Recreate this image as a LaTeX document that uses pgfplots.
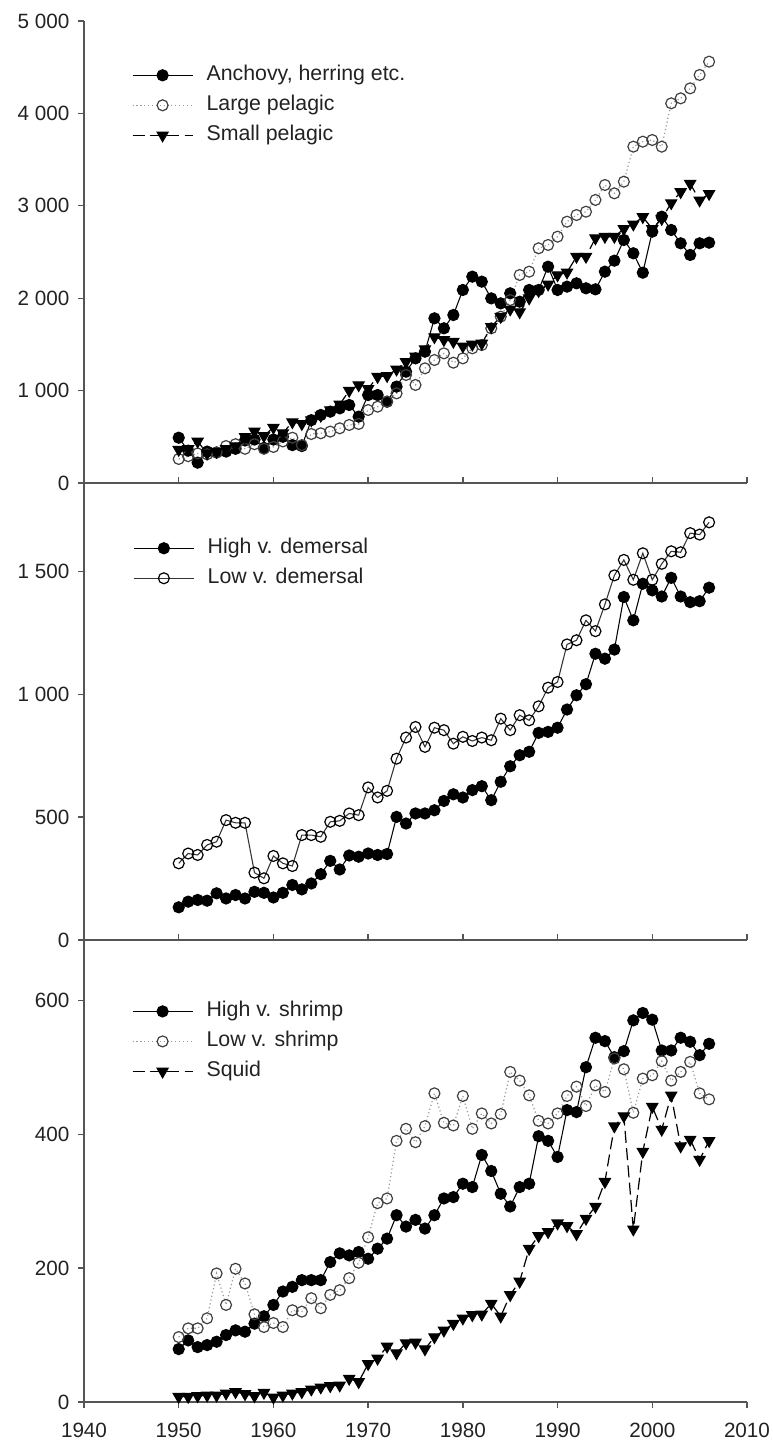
\documentclass[border=0pt]{standalone}
\usepackage{pgfplots}
\pgfplotsset{compat=1.18}
\usepackage{pgfplotstable}
\usepackage{fontspec}
\setmainfont{Liberation Sans}
\definecolor{axgray}{HTML}{555555}
\definecolor{txt}{HTML}{222222}
\definecolor{dotgray}{HTML}{999999}

\pgfplotstableread{
year anch large small
1950 490 260 360
1951 350 290 370
1952 220 320 450
1953 340 310 320
1954 330 330 340
1955 340 400 370
1956 370 420 400
1957 460 370 500
1958 470 420 560
1959 380 370 510
1960 470 390 600
1961 500 450 540
1962 410 490 660
1963 400 410 640
1964 680 530 680
1965 736 538 730
1966 772 556 790
1967 808 592 850
1968 844 628 1000
1969 718 639 1060
1970 952 790 1020
1971 952 826 1150
1972 880 880 1160
1973 1043 970 1230
1974 1205 1169 1310
1975 1349 1061 1370
1976 1421 1241 1450
1977 1782 1331 1580
1978 1674 1403 1550
1979 1818 1302 1530
1980 2089 1349 1480
1981 2233 1457 1500
1982 2179 1493 1510
1983 1998 1674 1690
1984 1944 1800 1800
1985 2053 1980 1880
1986 1962 2251 1850
1987 2089 2287 2000
1988 2089 2540 2080
1989 2341 2576 2150
1990 2089 2666 2250
1991 2125 2828 2280
1992 2161 2900 2450
1993 2107 2936 2450
1994 2096 3063 2650
1995 2287 3225 2666
1996 2406 3135 2666
1997 2630 3261 2750
1998 2486 3640 2800
1999 2276 3694 2880
2000 2720 3712 2750
2001 2882 3640 2860
2002 2738 4109 3030
2003 2594 4163 3150
2004 2468 4271 3240
2005 2594 4416 3060
2006 2601 4560 3130
}\toptable

\pgfplotstableread{
year high low
1950 133 312
1951 156 352
1952 163 346
1953 160 387
1954 190 400
1955 169 488
1956 183 477
1957 169 477
1958 196 274
1959 192 251
1960 173 342
1961 192 312
1962 224 301
1963 206 427
1964 230 427
1965 268 420
1966 322 481
1967 287 485
1968 344 515
1969 339 508
1970 352 621
1971 346 580
1972 350 607
1973 501 738
1974 474 824
1975 515 867
1976 515 786
1977 528 864
1978 566 854
1979 593 799
1980 580 827
1981 610 810
1982 626 824
1983 569 813
1984 644 901
1985 707 854
1986 752 915
1987 766 894
1988 843 951
1989 847 1027
1990 864 1050
1991 938 1203
1992 996 1220
1993 1041 1301
1994 1165 1257
1995 1145 1366
1996 1182 1484
1997 1396 1547
1998 1301 1466
1999 1450 1574
2000 1423 1466
2001 1398 1531
2002 1474 1582
2003 1398 1578
2004 1375 1656
2005 1379 1650
2006 1434 1700
}\midtable

\pgfplotstableread{
year high low squid
1950 79 97 8
1951 92 110 8
1952 82 110 9
1953 85 125 10
1954 90 192 10
1955 100 145 13
1956 107 199 15
1957 105 177 12
1958 117 131 9
1959 128 112 14
1960 145 118 7
1961 165 112 10
1962 172 137 13
1963 182 135 15
1964 182 155 19
1965 182 140 22
1966 209 160 24
1967 222 167 25
1968 219 185 35
1969 224 208 30
1970 214 246 57
1971 229 297 65
1972 244 304 83
1973 279 390 73
1974 262 408 88
1975 272 388 89
1976 259 412 79
1977 279 461 97
1978 304 417 107
1979 306 413 117
1980 326 457 125
1981 321 408 130
1982 369 431 131
1983 345 416 147
1984 311 430 128
1985 292 493 160
1986 321 480 180
1987 326 458 229
1988 397 420 248
1989 390 416 254
1990 366 431 267
1991 436 457 263
1992 433 471 251
1993 500 442 274
1994 544 473 292
1995 539 463 329
1996 515 513 412
1997 524 497 427
1998 570 432 258
1999 581 483 374
2000 571 488 441
2001 525 509 407
2002 525 480 458
2003 544 493 382
2004 538 508 392
2005 518 461 362
2006 535 452 390
}\bottable

\pgfplotsset{
  panel/.style={
    scale only axis, width=497.25pt,
    xmin=1940, xmax=2010, ymin=0,
    axis x line=bottom, axis y line=left,
    axis line style={draw=axgray, line width=1.1pt, -},
    tick style={draw=axgray, line width=1pt},
    tick align=outside, major tick length=4.5pt,
    xtick={1940,1950,...,2010},
    tick label style={font=\fontsize{15.5}{18}\selectfont, text=txt},
    /pgf/number format/assume math mode=true,
    /pgf/number format/1000 sep={\ },
    yticklabel style={xshift=-3pt},
    xticklabel style={yshift=-8pt, /pgf/number format/1000 sep={}},
    legend cell align=left,
    legend style={draw=none, fill=none, inner sep=0pt, row sep=4.5pt,
      font=\fontsize{16}{18}\selectfont, text=txt,
      nodes={inner sep=1pt, text height=12pt, text depth=4pt},
      /tikz/every odd column/.append style={column sep=9pt}},
    legend image code/.code={\draw[mark repeat=2, mark phase=2, #1]
      plot coordinates {(0pt,0pt) (22.5pt,0pt) (45pt,0pt)};},
    clip=false,
  },
  inx/.style={xticklabels={}, xtick style={yshift=4.5pt}},
  filled/.style={black, line width=0.8pt, solid, mark=*, mark size=4.2pt,
    mark options={fill=black, solid}},
  openc/.style={dotgray, line width=0.9pt, dotted, mark=o, mark size=4.1pt,
    mark options={draw=black!75, fill=white, solid, line width=0.9pt}},
  opensolid/.style={black!80, line width=0.8pt, solid, mark=o, mark size=4.1pt,
    mark options={draw=black, fill=white, solid, line width=0.9pt}},
  tri/.style={black, line width=0.9pt, dash pattern=on 9pt off 4pt, mark=triangle*,
    mark size=4.7pt, mark options={fill=black, solid, rotate=180}},
}

\begin{document}
\begin{tikzpicture}
\path[use as bounding box] (-63pt,-33pt) rectangle (516pt,1051.5pt);

% bottom panel
\begin{axis}[panel, at={(0pt,0pt)}, anchor=south west, height=346.5pt,
  ymax=690, ytick={0,200,400,600},
  legend style={at={(0.072,0.872)}, anchor=north west}]
\addplot[filled] table[x=year,y=high] {\bottable};
\addlegendentry{High v. shrimp}
\addplot[openc] table[x=year,y=low] {\bottable};
\addlegendentry{Low v. shrimp}
\addplot[tri] table[x=year,y=squid] {\bottable};
\addlegendentry{Squid}
\end{axis}

% middle panel
\begin{axis}[panel, inx, at={(0pt,346.5pt)}, anchor=south west, height=342.75pt,
  ymax=1860, ytick={0,500,1000,1500},
  legend style={at={(0.074,0.884)}, anchor=north west}]
\addplot[filled] table[x=year,y=high] {\midtable};
\addlegendentry{High v. demersal}
\addplot[opensolid] table[x=year,y=low] {\midtable};
\addlegendentry{Low v. demersal}
\end{axis}

% top panel
\begin{axis}[panel, inx, at={(0pt,689.25pt)}, anchor=south west, height=346.5pt,
  ymax=5000, ytick={0,1000,...,5000},
  legend style={at={(0.072,0.909)}, anchor=north west}]
\addplot[filled] table[x=year,y=anch] {\toptable};
\addlegendentry{Anchovy, herring etc.}
\addplot[openc] table[x=year,y=large] {\toptable};
\addlegendentry{Large pelagic}
\addplot[tri] table[x=year,y=small] {\toptable};
\addlegendentry{Small pelagic}
\end{axis}
\end{tikzpicture}
\end{document}
